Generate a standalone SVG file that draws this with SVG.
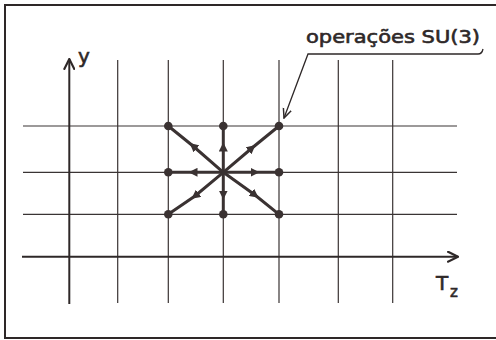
<svg xmlns="http://www.w3.org/2000/svg" width="496" height="340" viewBox="0 0 496 340">
<defs>
<style>
.grid{stroke:#3a3434;stroke-width:1.2;fill:none}
.axis{stroke:#2e2828;stroke-width:2;fill:none}
.op{stroke:#3a3232;stroke-width:3;fill:none;stroke-linecap:round;marker-mid:url(#mid)}
.dot{fill:#3a3232}
.lbl{font-family:"DejaVu Sans","Liberation Sans",sans-serif;fill:#2e2828;stroke:#2e2828;stroke-width:0.6}
</style>
<marker id="mid" viewBox="0 0 10 10" refX="5" refY="5" markerWidth="3" markerHeight="3" orient="auto" markerUnits="strokeWidth">
<path d="M0,0 L10,5 L0,10 Z" fill="#3a3232"/>
</marker>
<marker id="ax" viewBox="0 0 10 10" refX="9" refY="5" markerWidth="6" markerHeight="6" orient="auto" markerUnits="strokeWidth">
<path d="M0,0.5 L9,5 L0,9.5" fill="none" stroke="#2e2828" stroke-width="1.8"/>
</marker>
<marker id="lead" viewBox="0 0 10 10" refX="9" refY="5" markerWidth="8" markerHeight="8" orient="auto" markerUnits="strokeWidth">
<path d="M0,1 L9,5 L0,9" fill="none" stroke="#2e2828" stroke-width="1.4"/>
</marker>
</defs>
<rect x="0" y="0" width="496" height="340" fill="#fff"/>
<rect x="5" y="5" width="500" height="333" fill="none" stroke="#2e2828" stroke-width="2"/>
<g id="grid">
<path class="grid" d="M117.7,60V303M168.3,60V303M223.3,60V303M279,60V303M338.3,60V303M392.7,60V303"/>
<path class="grid" d="M23,126H457M23,172.3H457M23,214.3H457"/>
</g>
<g id="axes">
<path class="axis" d="M69.3,304V59" marker-end="url(#ax)"/>
<path class="axis" d="M22,256.7H458" marker-end="url(#ax)"/>
<text class="lbl" x="78" y="63" font-size="20">y</text>
<text class="lbl" x="436" y="290" font-size="20">T</text>
<text class="lbl" x="450" y="297" font-size="15">z</text>
</g>
<g id="connectors">
<path class="op" d="M223.3,172.3L223.3,147L223.3,126"/>
<path class="op" d="M223.3,172.3L223.3,195L223.3,214.3"/>
<path class="op" d="M223.3,172.3L193,172.3L168.3,172.3"/>
<path class="op" d="M223.3,172.3L255,172.3L279,172.3"/>
<path class="op" d="M223.3,172.3L193,146L168.3,126"/>
<path class="op" d="M223.3,172.3L252,148L279,126"/>
<path class="op" d="M223.3,172.3L195,196L168.3,214.3"/>
<path class="op" d="M223.3,172.3L255,195L279,214.3"/>
</g>
<g id="nodes">
<circle id="n1" class="dot" cx="168.3" cy="126" r="4.3"/>
<circle id="n2" class="dot" cx="223.3" cy="126" r="4.3"/>
<circle id="n3" class="dot" cx="279" cy="126" r="4.3"/>
<circle id="n4" class="dot" cx="168.3" cy="172.3" r="4.3"/>
<circle id="n5" class="dot" cx="279" cy="172.3" r="4.3"/>
<circle id="n6" class="dot" cx="168.3" cy="214.3" r="4.3"/>
<circle id="n7" class="dot" cx="223.3" cy="214.3" r="4.3"/>
<circle id="n8" class="dot" cx="279" cy="214.3" r="4.3"/>
</g>
<g id="label">
<text class="lbl" x="306" y="43" font-size="18" textLength="174" lengthAdjust="spacingAndGlyphs">operações SU(3)</text>
<path d="M483,49Q482,54 478,54H308L284,118" fill="none" stroke="#2e2828" stroke-width="1.3" marker-end="url(#lead)"/>
</g>
</svg>
